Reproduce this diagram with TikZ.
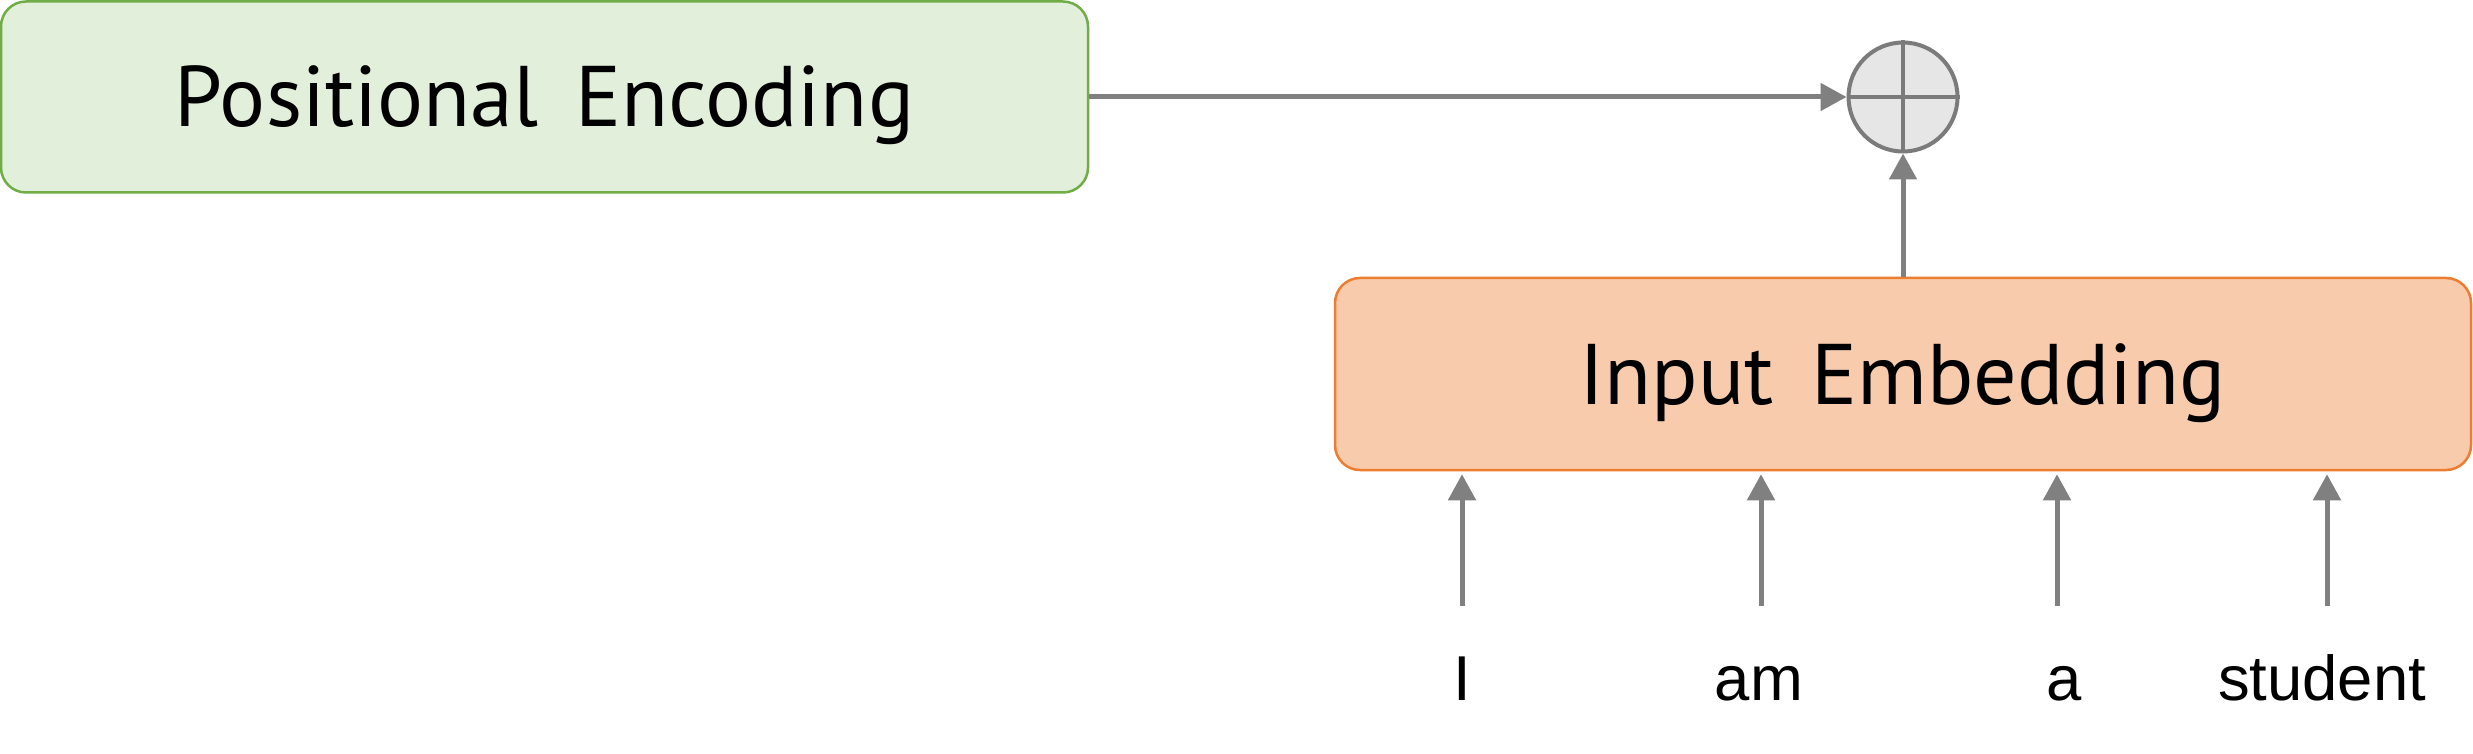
\documentclass[tikz,border=0pt]{standalone}
\usepackage{fontspec}
\setmainfont{PT Sans}
\newfontfamily\wordfont{Liberation Sans}
\usetikzlibrary{arrows.meta}
\definecolor{pefill}{HTML}{E2EFDA}
\definecolor{pedraw}{HTML}{70AD47}
\definecolor{iefill}{HTML}{F8CBAD}
\definecolor{iedraw}{HTML}{ED7D31}
\definecolor{arrowgray}{HTML}{808080}
\definecolor{circfill}{HTML}{E7E6E6}
\definecolor{circdraw}{HTML}{7B7B7B}
\begin{document}
\begin{tikzpicture}[x=0.5pt,y=-0.5pt,
  blockbox/.style={rectangle, rounded corners=12.5pt, line width=1.25pt, inner sep=0pt,
    text height=30pt, text depth=0pt, font=\fontsize{43pt}{52pt}\selectfont},
  addcirc/.style={circle, fill=circfill, draw=circdraw, line width=2pt, minimum size=54.5pt, inner sep=0pt},
  conn/.style={draw=arrowgray, line width=2.5pt, -{Triangle[length=13pt,width=13.5pt]}},
  wordlbl/.style={anchor=base, inner sep=0pt, font=\wordfont\fontsize{31.7pt}{38pt}\selectfont}
]
\useasboundingbox (0,0) rectangle (2473,754);
\node[blockbox, fill=pefill, draw=pedraw, minimum width=543.5pt, minimum height=95.5pt] (pe) at (544.5,97) {Positional\, Encoding};
\node[blockbox, fill=iefill, draw=iedraw, minimum width=568pt, minimum height=96pt] (ie) at (1903,374) {Input\, Embedding};
\node[addcirc] (c) at (1903,97) {};
\draw[circdraw, line width=2pt] (c.north) -- (c.south) (c.west) -- (c.east);
\draw[conn] (pe.east) -- (c.west);
\draw[conn] (ie.north) -- (c.south);
\node[wordlbl] (w1) at (1462,700) {I};
\node[wordlbl] (w2) at (1759,700) {am};
\node[wordlbl] (w3) at (2064,700) {a};
\node[wordlbl] (w4) at (2322,700) {student};
\coordinate (t1) at (1462,606);
\coordinate (t2) at (1761,606);
\coordinate (t3) at (2057,606);
\coordinate (t4) at (2327,606);
\foreach \t in {t1,t2,t3,t4}
  \draw[conn, shorten >=1.5pt] (\t) -- (\t |- ie.south);
\end{tikzpicture}
\end{document}
